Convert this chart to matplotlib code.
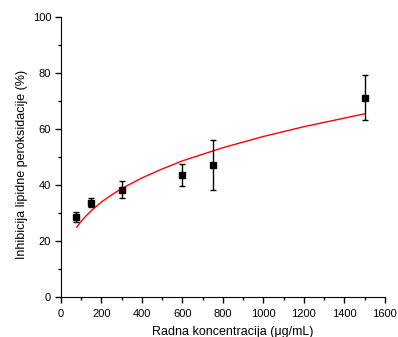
import matplotlib.pyplot as plt
from matplotlib.ticker import MultipleLocator

plt.rcParams['font.family'] = ['Liberation Sans', 'DejaVu Sans']

# measured points
konc = [75, 150, 300, 600, 750, 1500]
inhib = [28.7, 33.8, 38.4, 43.7, 47.2, 71.3]
greska = [1.7, 1.7, 3.1, 4.0, 9.0, 8.0]

# fitted curve
fit_x = [78, 100, 125, 150, 200, 250, 300, 400, 500, 600, 800, 1000, 1200, 1500]
fit_y = [25.0, 27.1, 29.1, 30.9, 34.0, 36.5, 38.8, 42.6, 45.8, 48.7, 53.4, 57.4, 60.9, 65.5]

fig = plt.figure(figsize=(3.98, 3.37), dpi=100)
ax = fig.add_axes([0.153, 0.118, 0.814, 0.831])

ax.plot(fit_x, fit_y, color='red', lw=1)
ax.errorbar(konc, inhib, yerr=greska, fmt='s', color='black', ms=5,
            elinewidth=1, capsize=2.5, capthick=1)

ax.set_xlim(0, 1600)
ax.set_ylim(0, 100)
ax.xaxis.set_major_locator(MultipleLocator(200))
ax.xaxis.set_minor_locator(MultipleLocator(100))
ax.yaxis.set_major_locator(MultipleLocator(20))
ax.yaxis.set_minor_locator(MultipleLocator(10))
ax.tick_params(which='major', direction='out', length=4, width=1, labelsize=8, pad=3)
ax.tick_params(axis='x', which='major', pad=4.5)
ax.tick_params(which='minor', direction='out', length=2.5, width=1)
ax.spines['top'].set_visible(False)
ax.spines['right'].set_visible(False)

ax.set_xlabel('Radna koncentracija (\u03bcg/mL)', fontsize=9)
ax.set_ylabel('Inhibicija lipidne peroksidacije (%)', fontsize=9)
ax.xaxis.set_label_coords(0.531, -0.102)
ax.yaxis.set_label_coords(-0.1, 0.474)

fig.savefig('out.png', dpi=100)
